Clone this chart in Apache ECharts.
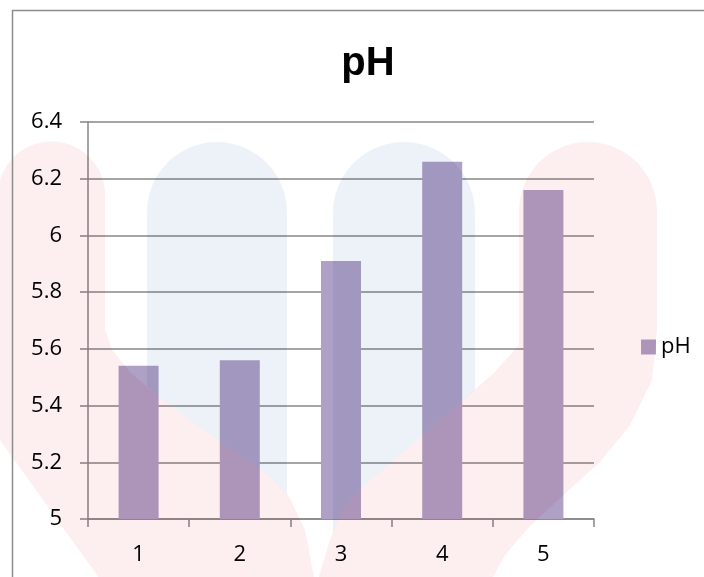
<!DOCTYPE html>
<html>
<head>
<meta charset="utf-8">
<script src="https://cdn.jsdelivr.net/npm/echarts@6/dist/echarts.min.js"></script>
<style>
  html, body { margin: 0; padding: 0; background: #ffffff; }
  #chart { width: 704px; height: 577px; }
</style>
</head>
<body>
<div id="chart"></div>
<script>
// Sample numbers and their measured pH
const categories = ['1', '2', '3', '4', '5'];
const phValues = [5.54, 5.56, 5.91, 6.26, 6.16];
const seriesName = 'pH';
const chartTitle = 'pH';

const labelFont = '"Open Sans", "Liberation Sans", sans-serif';
const gridColor = '#878787';

const chart = echarts.init(document.getElementById('chart'), null, { renderer: 'canvas' });

// Half-circle cap (left to right across the top) for the emblem shapes
function capPoints(cx, cy, r) {
  const pts = [];
  for (let i = 0; i <= 24; i++) {
    const a = Math.PI + (Math.PI * i) / 24;
    pts.push([cx + r * Math.cos(a), cy + r * Math.sin(a)]);
  }
  return pts;
}

// Faint background emblem, blended over the plot with multiply.
// The blue columns stop where the pink arms begin, so the arms stay pink.
const pink = '#fdeef0';
const blue = '#ecf2f8';
const emblemShapes = [
  {
    color: blue,
    points: [[147, 386]].concat(capPoints(217, 212, 70), [
      [287, 494], [262, 470], [230, 448], [190, 420], [158, 396]
    ])
  },
  {
    color: blue,
    points: [[333, 533]].concat(capPoints(404, 213, 71), [
      [475, 390], [463, 400], [440, 420], [400, 455], [370, 480], [345, 505]
    ])
  },
  {
    color: pink,
    points: [[0, 440], [-2, 195]].concat(capPoints(51.5, 195, 53.5), [
      [105, 330], [112, 350], [130, 372], [158, 396], [190, 420], [230, 448],
      [262, 470], [288, 495], [305, 530], [318, 600], [115, 600]
    ])
  },
  {
    color: pink,
    points: [[519, 345]].concat(capPoints(588, 211, 69), [
      [657, 330], [652, 380], [630, 425], [600, 462], [569, 490], [530, 526],
      [505, 555], [480, 600], [312, 600], [330, 540], [345, 505], [370, 480],
      [400, 455], [440, 420], [463, 400], [495, 372]
    ])
  }
];
const emblem = emblemShapes.map(function (e) {
  return {
    type: 'polygon',
    shape: { points: e.points },
    z: 100,
    silent: true,
    style: { fill: e.color, blend: 'multiply' }
  };
});

const option = {
  animation: false,
  backgroundColor: '#ffffff',
  title: {
    text: chartTitle,
    left: 363,
    top: 39,
    textAlign: 'center',
    textStyle: {
      fontFamily: '"Liberation Sans", Arial, sans-serif',
      fontWeight: 'bold',
      fontSize: 40,
      color: '#000000'
    }
  },
  legend: {
    data: [seriesName],
    left: 636,
    top: 331,
    orient: 'vertical',
    icon: 'rect',
    itemWidth: 15,
    itemHeight: 15,
    itemGap: 5,
    textStyle: { fontFamily: labelFont, fontSize: 22, color: '#000000' }
  },
  grid: { left: 88, right: 110, top: 122, bottom: 58, containLabel: false },
  xAxis: {
    type: 'category',
    data: categories,
    boundaryGap: true,
    axisLine: { lineStyle: { color: gridColor, width: 1.5 } },
    axisTick: { show: true, length: 8, inside: false, alignWithLabel: false, lineStyle: { color: gridColor, width: 1.5 } },
    axisLabel: { fontFamily: labelFont, fontSize: 22, color: '#000000', margin: 25 },
    splitLine: { show: false }
  },
  yAxis: {
    type: 'value',
    min: 5,
    max: 6.4,
    interval: 0.2,
    axisLine: { show: true, lineStyle: { color: gridColor, width: 1.5 } },
    axisTick: { show: true, length: 8, inside: false, lineStyle: { color: gridColor, width: 1.5 } },
    axisLabel: {
      fontFamily: labelFont, fontSize: 22, color: '#000000', margin: 26,
      formatter: function (v) { return String(Math.round(v * 10) / 10); }
    },
    splitLine: { show: true, lineStyle: { color: gridColor, width: 1.5 } }
  },
  series: [{
    name: seriesName,
    type: 'bar',
    data: phValues,
    barWidth: 40,
    itemStyle: { color: '#afa0c5' }
  }],
  graphic: [
    {
      type: 'rect',
      silent: true,
      z: 101,
      shape: { x: 12.5, y: 10.5, width: 760, height: 640 },
      style: { fill: 'none', stroke: '#8c8c8c', lineWidth: 1.5 }
    }
  ].concat(emblem)
};

chart.setOption(option);
</script>
</body>
</html>
